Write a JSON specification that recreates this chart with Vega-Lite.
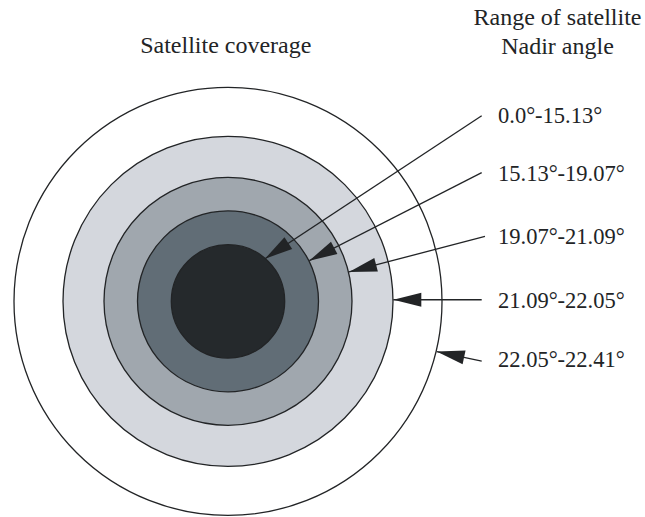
{
  "$schema": "https://vega.github.io/schema/vega-lite/v6.json",
  "width": 645,
  "height": 517,
  "autosize": {"type": "fit", "contains": "padding"},
  "padding": 0,
  "background": "white",
  "config": {"view": {"stroke": null}},
  "datasets": {
    "rings": [
      {"ring": "22.05°-22.41°", "r": 214},
      {"ring": "21.09°-22.05°", "r": 165},
      {"ring": "19.07°-21.09°", "r": 124},
      {"ring": "15.13°-19.07°", "r": 90.5},
      {"ring": "0.0°-15.13°", "r": 56.7}
    ],
    "arrows": [
      {"ring": "0.0°-15.13°", "xs": 253.7, "ys": 187, "xt": 37, "yt": 43, "lx": 270, "ly": 179.4},
      {"ring": "15.13°-19.07°", "xs": 253.7, "ys": 129.7, "xt": 81.3, "yt": 41, "lx": 270, "ly": 121.4},
      {"ring": "19.07°-21.09°", "xs": 257, "ys": 65.4, "xt": 121, "yt": 29.7, "lx": 270, "ly": 58},
      {"ring": "21.09°-22.05°", "xs": 253.7, "ys": 1.6, "xt": 165.3, "yt": 1.6, "lx": 270, "ly": -6.3},
      {"ring": "22.05°-22.41°", "xs": 253.7, "ys": -60.3, "xt": 208.7, "yt": -50.6, "lx": 270, "ly": -66.3}
    ],
    "titles": [
      {"t": "Satellite coverage", "x": -2.2, "y": 250.4},
      {"t": "Range of satellite", "x": 329.5, "y": 278.7},
      {"t": "Nadir angle", "x": 329.5, "y": 249.7}
    ]
  },
  "layer": [
    {
      "data": {"name": "rings"},
      "mark": {"type": "point", "shape": "circle", "filled": true, "opacity": 1, "stroke": "#222426", "strokeWidth": 1.3},
      "encoding": {
        "x": {"datum": 0, "type": "quantitative", "scale": {"domain": [-228, 417], "nice": false, "zero": false}, "axis": null},
        "y": {"datum": 0, "type": "quantitative", "scale": {"domain": [-213.3, 303.7], "nice": false, "zero": false}, "axis": null},
        "size": {"field": "r", "type": "quantitative", "scale": {"type": "pow", "exponent": 2, "domain": [0, 214], "range": [0, 183184]}, "legend": null},
        "fill": {"field": "ring", "type": "nominal", "scale": {"domain": ["22.05°-22.41°", "21.09°-22.05°", "19.07°-21.09°", "15.13°-19.07°", "0.0°-15.13°"], "range": ["#ffffff", "#d4d7dd", "#a0a7ae", "#616d76", "#25292c"]}, "legend": null},
        "order": {"field": "r", "type": "quantitative", "sort": "descending"}
      }
    },
    {
      "data": {"name": "arrows"},
      "mark": {"type": "rule", "color": "#222426", "strokeWidth": 1.3},
      "encoding": {
        "x": {"field": "xs", "type": "quantitative", "axis": null},
        "y": {"field": "ys", "type": "quantitative", "axis": null},
        "x2": {"field": "xt"},
        "y2": {"field": "yt"}
      }
    },
    {
      "data": {"name": "arrows"},
      "transform": [{"calculate": "atan2(-(datum.yt - datum.ys), datum.xt - datum.xs) * 180 / PI", "as": "ang"}],
      "mark": {"type": "point", "shape": "M0,0L-1,-0.25L-1,0.25Z", "filled": true, "opacity": 1, "color": "#222426", "size": 3136},
      "encoding": {
        "x": {"field": "xt", "type": "quantitative", "axis": null},
        "y": {"field": "yt", "type": "quantitative", "axis": null},
        "angle": {"field": "ang", "type": "quantitative", "scale": null}
      }
    },
    {
      "data": {"name": "arrows"},
      "mark": {"type": "text", "align": "left", "baseline": "alphabetic", "font": "Liberation Serif", "fontSize": 22.5, "color": "#222426"},
      "encoding": {
        "x": {"field": "lx", "type": "quantitative", "axis": null},
        "y": {"field": "ly", "type": "quantitative", "axis": null},
        "text": {"field": "ring"}
      }
    },
    {
      "data": {"name": "titles"},
      "mark": {"type": "text", "align": "center", "baseline": "alphabetic", "font": "Liberation Serif", "fontSize": 24, "color": "#222426"},
      "encoding": {
        "x": {"field": "x", "type": "quantitative", "axis": null},
        "y": {"field": "y", "type": "quantitative", "axis": null},
        "text": {"field": "t"}
      }
    }
  ]
}
